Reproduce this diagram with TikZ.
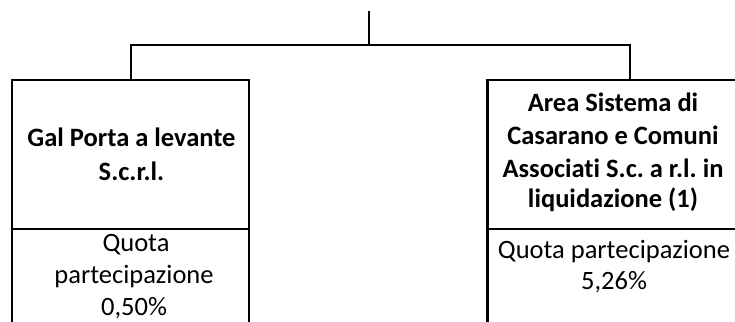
\documentclass[tikz,border=0pt]{standalone}
\usepackage{fontspec}
\setmainfont{Carlito}[Ligatures={NoCommon}]
\frenchspacing
\begin{document}
\begin{tikzpicture}[x=1pt,y=-1pt,
  conn/.style={line width=2.3pt},
  boxline/.style={line width=2.3pt},
  title/.style={font=\fontsize{26.5}{32}\selectfont\bfseries, anchor=base, inner sep=0pt},
  quota/.style={font=\fontsize{26.5}{32}\selectfont, anchor=base, inner sep=0pt}]
\clip (0,0) rectangle (735,321);
\useasboundingbox (0,0) rectangle (735,321);
% boxes
\draw[boxline] (12,340) |- (249,80) -- (249,340);
\draw[boxline] (12,229) -- (249,229);
\draw[boxline] (487.5,340) |- (741,80) -- (741,340);
\draw[boxline] (487.5,229) -- (741,229);
% connector points
\coordinate (top) at (368.7,11);
\coordinate (hub) at (368.7,45);
\coordinate (lb) at (131,80);
\coordinate (rb) at (630,80);
\draw[conn] (top) -- (hub);
\draw[conn] (lb) |- (hub) -| (rb);
% left texts
\node[title] (lt1) at (131.5,146) {Gal Porta a levante};
\node[title] (lt2) at (131.5,180) {S.c.r.l.};
\node[quota] (lq1) at (136,251) {Quota};
\node[quota] (lq2) at (134,283) {partecipazione};
\node[quota] (lq3) at (134,315) {0,50\%};
% right texts
\node[title] (rt1) at (613,111) {Area Sistema di};
\node[title] (rt2) at (613,144) {Casarano e Comuni};
\node[title] (rt3) at (613,177) {Associati S.c. a r.l. in};
\node[title] (rt4) at (613,207) {liquidazione (1)};
\node[quota] (rq1) at (614,258) {Quota partecipazione};
\node[quota] (rq2) at (614,289) {5,26\%};
\end{tikzpicture}
\end{document}
